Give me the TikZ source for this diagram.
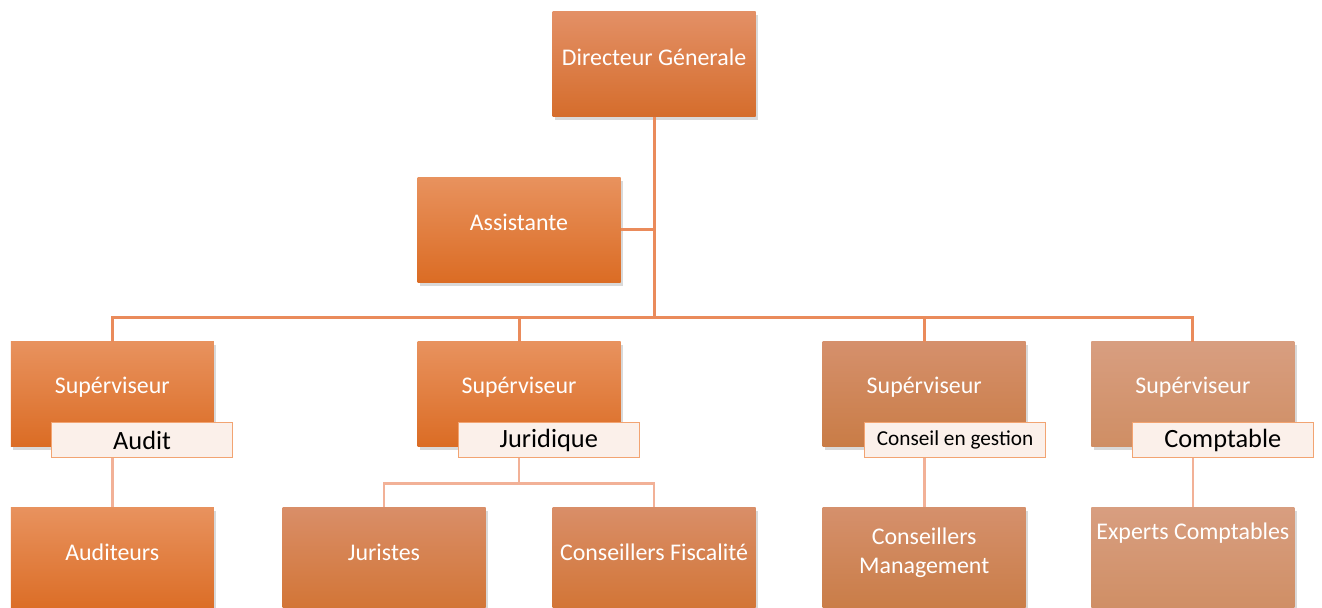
\documentclass[tikz,border=0pt]{standalone}
\usepackage{fontspec}
\setmainfont{Carlito}
\usetikzlibrary{positioning, shadows}

\definecolor{linetop}{HTML}{EA8B5B}
\definecolor{linelow}{HTML}{F2B197}
\definecolor{tagline}{HTML}{F2A472}
\definecolor{tagfill}{HTML}{FBF0EA}

\tikzset{
  post/.style={rectangle, minimum width=4.06cm, minimum height=2.1cm, inner sep=0pt,
    drop shadow={shadow xshift=1.5pt, shadow yshift=-2pt, opacity=0.3}},
  posttext/.style={text=white, font=\fontsize{13.6}{16.5}\selectfont, align=center},
  tag/.style={rectangle, draw=tagline, fill=tagfill, line width=0.6pt,
    minimum width=3.62cm, minimum height=0.7cm, inner sep=0pt,
    font=\fontsize{15}{18}\selectfont},
  % colour steps, strong on the left, paler on the right
  hot/.style={top color={rgb,255:red,232;green,146;blue,94}, middle color={rgb,255:red,236;green,125;blue,51},
    bottom color={rgb,255:red,219;green,108;blue,36}},
  warm/.style={top color={rgb,255:red,227;green,144;blue,102}, middle color={rgb,255:red,230;green,126;blue,58},
    bottom color={rgb,255:red,213;green,109;blue,44}},
  mild/.style={top color={rgb,255:red,217;green,142;blue,104}, middle color={rgb,255:red,216;green,128;blue,72},
    bottom color={rgb,255:red,210;green,116;blue,52}},
  soft/.style={top color={rgb,255:red,213;green,144;blue,108}, middle color={rgb,255:red,208;green,133;blue,85},
    bottom color={rgb,255:red,201;green,124;blue,70}},
  pale/.style={top color={rgb,255:red,216;green,158;blue,128}, middle color={rgb,255:red,213;green,150;blue,112},
    bottom color={rgb,255:red,207;green,142;blue,100}},
  topline/.style={draw=linetop, line width=1.7pt},
  lowline/.style={draw=linelow, line width=1.5pt}
}

\begin{document}
\begin{tikzpicture}
    \useasboundingbox (0,0) rectangle (26.44,-12.16);

    % direction
    \node[post, warm, label={[posttext, yshift=4pt]center:Directeur Génerale}] (dg) at (13.08,-1.28) {};
    \node[post, hot, below=1.2cm of dg, xshift=-2.7cm, label={[posttext, yshift=4pt]center:Assistante}] (asst) {};

    % superviseurs
    \node[post, hot, below=1.18cm of asst, label={[posttext, yshift=4pt]center:Supérviseur}] (sup2) {};
    \node[post, hot, left=4.06cm of sup2, label={[posttext, yshift=4pt]center:Supérviseur}] (sup1) {};
    \node[post, soft, right=4.03cm of sup2, label={[posttext, yshift=4pt]center:Supérviseur}] (sup3) {};
    \node[post, pale, right=1.3cm of sup3, label={[posttext, yshift=4pt]center:Supérviseur}] (sup4) {};

    \node[tag, anchor=south east] (lab1) at ([shift={(0.38cm,-0.22cm)}]sup1.south east) {Audit};
    \node[tag, anchor=south east] (lab2) at ([shift={(0.38cm,-0.22cm)}]sup2.south east) {Juridique};
    \node[tag, anchor=south east, font=\fontsize{12.1}{14}\selectfont] (lab3) at ([shift={(0.4cm,-0.22cm)}]sup3.south east) {Conseil en gestion};
    \node[tag, anchor=south east] (lab4) at ([shift={(0.38cm,-0.22cm)}]sup4.south east) {Comptable};

    % equipes
    \node[post, hot, below=1.2cm of sup1, label={[posttext, yshift=4.5pt]center:Auditeurs}] (aud) {};
    \node[post, mild, below=1.2cm of sup2, xshift=-2.7cm, label={[posttext, yshift=4.5pt]center:Juristes}] (jur) {};
    \node[post, mild, below=1.2cm of sup2, xshift=2.7cm, label={[posttext, yshift=4.5pt]center:Conseillers Fiscalité}] (fis) {};
    \node[post, soft, below=1.2cm of sup3, label={[posttext, yshift=4pt]center:{Conseillers\\Management}}] (man) {};
    \node[post, pale, below=1.2cm of sup4, label={[posttext, yshift=15.5pt]center:Experts Comptables}] (exp) {};

    % liaisons
    \path (sup2.north) ++(0,0.48) coordinate (bus);
    \coordinate (hub) at (dg.south |- bus);
    \draw[topline] (dg.south) -- (hub);
    \draw[topline] (asst.east) -- (asst.east -| dg.south);
    \draw[topline] (hub) -| (sup1.north);
    \draw[topline] (hub) -| (sup2.north);
    \draw[topline] (hub) -| (sup3.north);
    \draw[topline] (hub) -| (sup4.north);

    \path (jur.north) ++(0,0.48) coordinate (jbus);
    \draw[lowline] (sup1.south |- lab1.south) -- (aud.north);
    \draw[lowline] (sup2.south |- lab2.south) -- (sup2.south |- jbus);
    \draw[lowline] (jur.north) |- (jbus -| fis.north) -- (fis.north);
    \draw[lowline] (sup3.south |- lab3.south) -- (man.north);
    \draw[lowline] (sup4.south |- lab4.south) -- (exp.north);
\end{tikzpicture}
\end{document}
